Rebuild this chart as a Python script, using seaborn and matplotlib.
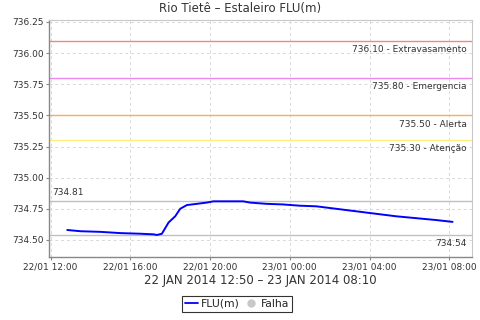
import matplotlib
matplotlib.use("Agg")
import matplotlib.pyplot as plt
import matplotlib.dates as mdates
from matplotlib.lines import Line2D
import pandas as pd
import seaborn as sns

times = ["2014-01-22 12:50", "2014-01-22 13:30", "2014-01-22 14:30", "2014-01-22 15:30",
         "2014-01-22 16:30", "2014-01-22 17:10", "2014-01-22 17:20", "2014-01-22 17:35",
         "2014-01-22 17:55", "2014-01-22 18:15", "2014-01-22 18:30", "2014-01-22 18:50",
         "2014-01-22 19:20", "2014-01-22 19:50", "2014-01-22 20:10", "2014-01-22 21:40",
         "2014-01-22 22:00", "2014-01-22 22:50", "2014-01-22 23:40", "2014-01-23 00:30",
         "2014-01-23 01:20", "2014-01-23 02:20", "2014-01-23 03:20", "2014-01-23 04:20",
         "2014-01-23 05:20", "2014-01-23 06:20", "2014-01-23 07:20", "2014-01-23 08:10"]
flu = [734.58, 734.57, 734.565, 734.555,
       734.55, 734.545, 734.54, 734.55,
       734.64, 734.69, 734.75, 734.78,
       734.79, 734.80, 734.81, 734.81,
       734.80, 734.79, 734.785, 734.775,
       734.77, 734.75, 734.73, 734.71,
       734.69, 734.675, 734.66, 734.645]

thresholds = [736.10, 735.80, 735.50, 735.30]
threshold_names = ["Extravasamento", "Emergencia", "Alerta", "Atenção"]
threshold_colors = ["#ff8080", "#ee88ee", "#ffaa55", "#ffee77"]
max_val = 734.81
min_val = 734.54
title = "Rio Tietê – Estaleiro FLU(m)"
xlabel = "22 JAN 2014 12:50 – 23 JAN 2014 08:10"

df = pd.DataFrame({"time": pd.to_datetime(times), "FLU(m)": flu})

sns.set_style("white")
plt.rcParams['font.family'] = ['DejaVu Sans']

fig = plt.figure(figsize=(4.8, 3.2), dpi=100)
ax = fig.add_axes([0.1027, 0.198, 0.881, 0.7395])

ax.grid(True, color="#d8d8d8", linestyle=(0, (3, 3)), linewidth=0.7)

for v, n, c in zip(thresholds, threshold_names, threshold_colors):
    ax.axhline(v, color=c, linewidth=1.0, zorder=2)
    ax.annotate(f"{v:.2f} - {n}", xy=(1, v), xycoords=("axes fraction", "data"),
                xytext=(-4, -3), textcoords="offset points", ha="right", va="top",
                fontsize=6.5, color="#333333")
ax.axhline(max_val, color="#c0c0c0", linewidth=1.0, zorder=2)
ax.axhline(min_val, color="#c0c0c0", linewidth=1.0, zorder=2)
ax.annotate(f"{max_val:.2f}", xy=(0, max_val), xycoords=("axes fraction", "data"),
            xytext=(2, 3), textcoords="offset points", ha="left", va="bottom",
            fontsize=6.5, color="#333333")
ax.annotate(f"{min_val:.2f}", xy=(1, min_val), xycoords=("axes fraction", "data"),
            xytext=(-4, -3), textcoords="offset points", ha="right", va="top",
            fontsize=6.5, color="#333333")

sns.lineplot(data=df, x="time", y="FLU(m)", ax=ax, color="#0000ff", linewidth=1.4,
             zorder=3, legend=False)

ax.set_ylim(734.366, 736.266)
ax.set_xlim(pd.Timestamp("2014-01-22 11:56"), pd.Timestamp("2014-01-23 09:09"))
ax.set_yticks([734.50, 734.75, 735.00, 735.25, 735.50, 735.75, 736.00, 736.25])
ax.yaxis.set_major_formatter(matplotlib.ticker.FormatStrFormatter("%.2f"))
ax.xaxis.set_major_locator(mdates.HourLocator(byhour=[0, 4, 8, 12, 16, 20]))
ax.xaxis.set_major_formatter(mdates.DateFormatter("%d/%m %H:%M"))
ax.tick_params(axis="both", labelsize=6.5, labelcolor="#333333", length=2, width=0.8,
               direction="out", pad=2, color="#888888", left=True, bottom=True)

for s in ["left", "bottom"]:
    ax.spines[s].set_color("#888888")
    ax.spines[s].set_linewidth(1.0)
for s in ["top", "right"]:
    ax.spines[s].set_color("#c8c8c8")
    ax.spines[s].set_linewidth(0.8)

ax.set_ylabel("")
ax.set_xlabel(xlabel, fontsize=8.5, color="#333333", labelpad=2)
fig.text(0.5, 0.972, title, ha="center", va="center", fontsize=8.5, color="#333333")

handles = [Line2D([], [], color="#0000ff", linewidth=1.3),
           Line2D([], [], marker="o", linestyle="none", color="#c8c8c8", markersize=5)]
leg = fig.legend(handles, ["FLU(m)", "Falha"], loc="center", bbox_to_anchor=(0.494, 0.05),
                 ncol=2, fontsize=7.8, frameon=True, fancybox=False, handlelength=1.2,
                 handletextpad=0.3, columnspacing=0.4, borderpad=0.3)
leg.get_frame().set_edgecolor("#000000")
leg.get_frame().set_linewidth(0.8)

fig.savefig("out.png", dpi=100)
